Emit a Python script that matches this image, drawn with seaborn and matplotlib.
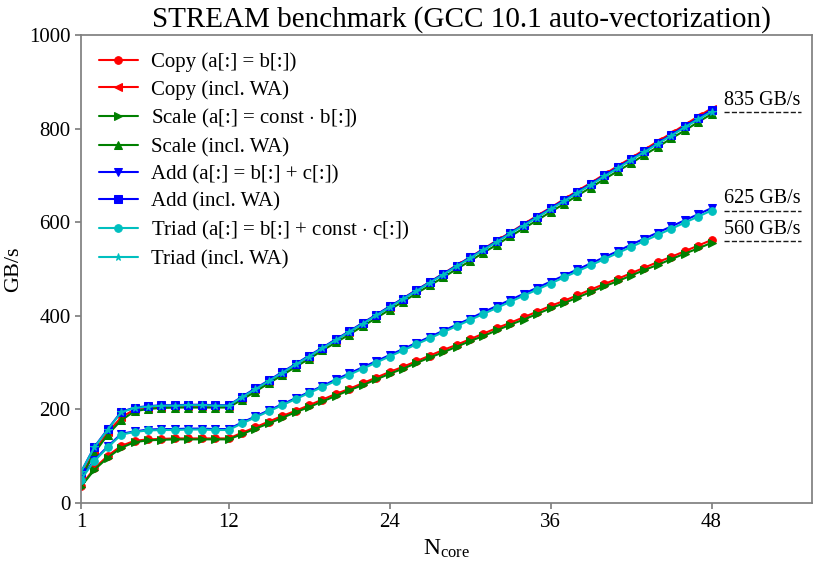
import numpy as np
import pandas as pd
import matplotlib
matplotlib.use("Agg")
import matplotlib.pyplot as plt
import seaborn as sns

# core counts
cores = list(range(1, 49))

# bandwidth in GB/s
copy = [37, 74, 101, 122, 133, 136, 137, 138, 138, 138, 138, 138,
        150, 162, 174, 186, 197, 209, 221, 233, 244, 256, 268, 280,
        291, 303, 315, 327, 338, 350, 362, 374, 385, 397, 409, 421,
        432, 444, 456, 468, 479, 491, 503, 515, 526, 538, 550, 562]
copy_wa = [56, 111, 151, 183, 200, 204, 206, 207, 207, 207, 207, 207,
           225, 243, 260, 278, 296, 313, 331, 349, 366, 384, 402, 419,
           437, 455, 472, 490, 508, 525, 543, 561, 578, 596, 614, 631,
           649, 667, 684, 702, 720, 737, 755, 773, 790, 808, 826, 843]
scale = [35, 71, 97, 118, 130, 134, 135, 136, 136, 136, 136, 136,
         147, 159, 170, 182, 194, 205, 217, 229, 241, 252, 264, 276,
         287, 299, 311, 322, 334, 346, 357, 369, 381, 392, 404, 416,
         427, 439, 451, 463, 474, 486, 498, 509, 521, 533, 544, 556]
scale_wa = [53, 107, 146, 177, 196, 201, 203, 204, 204, 204, 204, 204,
            221, 238, 256, 273, 291, 308, 326, 343, 360, 378, 395, 413,
            430, 448, 465, 482, 500, 517, 535, 552, 570, 587, 604, 622,
            639, 657, 674, 692, 709, 726, 744, 761, 779, 796, 814, 831]
add = [52, 92, 121, 148, 153, 157, 158, 158, 159, 159, 158, 158,
       172, 185, 198, 211, 224, 237, 250, 264, 277, 290, 303, 316,
       329, 342, 355, 368, 381, 394, 408, 421, 434, 447, 460, 473,
       486, 499, 512, 525, 538, 552, 565, 578, 591, 604, 617, 630]
add_wa = [66, 120, 158, 195, 204, 207, 209, 209, 210, 210, 209, 209,
          227, 245, 262, 280, 297, 315, 332, 350, 367, 385, 402, 420,
          437, 455, 472, 490, 507, 525, 542, 560, 577, 595, 612, 630,
          647, 665, 682, 700, 717, 735, 752, 770, 787, 805, 822, 840]
triad = [50, 90, 119, 146, 152, 155, 156, 156, 157, 157, 156, 156,
         170, 183, 196, 209, 222, 235, 248, 261, 274, 287, 300, 313,
         326, 339, 352, 365, 378, 391, 404, 417, 430, 443, 456, 469,
         482, 495, 508, 521, 534, 547, 560, 573, 586, 599, 612, 625]
triad_wa = [66, 119, 157, 194, 203, 206, 208, 208, 209, 209, 208, 208,
            226, 243, 261, 278, 296, 313, 331, 348, 366, 383, 401, 418,
            436, 453, 471, 488, 506, 523, 541, 558, 576, 593, 610, 628,
            645, 663, 680, 698, 715, 733, 750, 768, 785, 803, 820, 836]

labels = ["Copy (a[:] = b[:])", "Copy (incl. WA)",
          "Scale (a[:] = const $\\cdot$ b[:])", "Scale (incl. WA)",
          "Add (a[:] = b[:] + c[:])", "Add (incl. WA)",
          "Triad (a[:] = b[:] + const $\\cdot$ c[:])", "Triad (incl. WA)"]
series = [copy, copy_wa, scale, scale_wa, add, add_wa, triad, triad_wa]
colors = ["#ff0000", "#ff0000", "#008000", "#008000",
          "#0000ff", "#0000ff", "#00bfbf", "#00bfbf"]
markers = ["o", "<", ">", "^", "v", "s", "o", "*"]

# saturation levels marked on the right
levels = [835, 625, 560]

sns.set_theme(style="ticks")
plt.rcParams["font.family"] = ["Liberation Serif", "DejaVu Serif"]
plt.rcParams["mathtext.fontset"] = "custom"
plt.rcParams["mathtext.rm"] = "Liberation Serif"
plt.rcParams["mathtext.it"] = "Liberation Serif:italic"
plt.rcParams["text.color"] = "black"
plt.rcParams["axes.labelcolor"] = "black"
plt.rcParams["xtick.color"] = "gray"
plt.rcParams["ytick.color"] = "gray"
plt.rcParams["xtick.labelcolor"] = "black"
plt.rcParams["ytick.labelcolor"] = "black"

fig = plt.figure(figsize=(8.22, 5.65), dpi=100)
ax = fig.add_axes([0.0985, 0.1097, 0.8895, 0.8283])

for vals, lab, col, mk in zip(series, labels, colors, markers):
    df = pd.DataFrame({"N": cores, "bw": vals})
    sns.lineplot(data=df, x="N", y="bw", color=col, marker=mk, markersize=5.5,
                 markeredgecolor=col, linewidth=1.5, label=lab, ax=ax)

for lv in levels:
    ax.plot([48.9, 54.7], [lv, lv], ls="--", color="k", lw=1)
    ax.text(48.9, lv + 5, f"{lv} GB/s", fontsize=14.5, ha="left", va="bottom")

ax.set_xlim(1, 55.5)
ax.set_ylim(0, 1000)
ax.set_xticks([1, 12, 24, 36, 48])
ax.set_yticks([0, 200, 400, 600, 800, 1000])
ax.tick_params(labelsize=15, length=4)
for sp in ax.spines.values():
    sp.set_color("gray")
ax.set_xlabel("N$_\\mathrm{core}$", fontsize=17)
ax.set_ylabel("GB/s", fontsize=16)
ax.set_title("STREAM benchmark (GCC 10.1 auto-vectorization)", fontsize=21,
             pad=6, x=0.52)
ax.legend(loc="upper left", frameon=False, fontsize=15, handlelength=1.9,
          handletextpad=0.6, labelspacing=0.36, borderaxespad=0.45)

fig.savefig("out.png", dpi=100)
